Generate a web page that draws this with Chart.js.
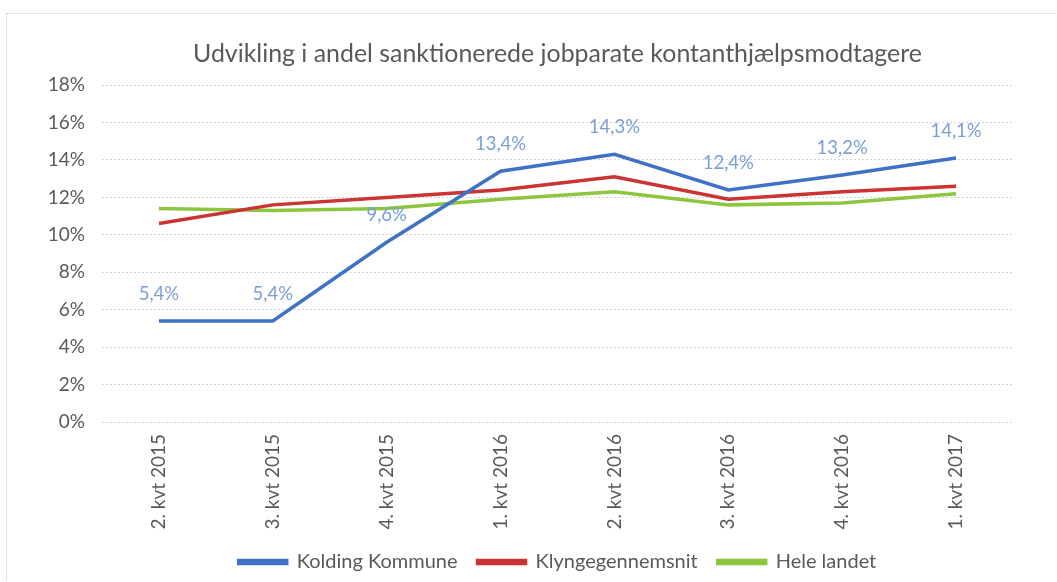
<!DOCTYPE html>
<html>
<head>
<meta charset="utf-8">
<script src="https://cdn.jsdelivr.net/npm/chart.js@4.4.0/dist/chart.umd.min.js"></script>
<style>
  html, body { margin: 0; padding: 0; background: #fff; }
  #wrap { position: relative; width: 1057px; height: 582px; overflow: hidden; }
  #frame { position: absolute; left: 6px; top: 13px; width: 1100px; height: 600px; border: 1px dotted #c8c8c8; }
  canvas { position: absolute; left: 0; top: 0; }
</style>
</head>
<body>
<div id="wrap">
  <div id="frame"></div>
  <canvas id="kontanthjaelpChart" width="1057" height="582"></canvas>
</div>
<script>
  // Kvartaler og andele (procent)
  const quarters = ['2. kvt 2015', '3. kvt 2015', '4. kvt 2015', '1. kvt 2016', '2. kvt 2016', '3. kvt 2016', '4. kvt 2016', '1. kvt 2017'];
  const kolding = [5.4, 5.4, 9.6, 13.4, 14.3, 12.4, 13.2, 14.1];
  const klynge = [10.6, 11.6, 12.0, 12.4, 13.1, 11.9, 12.3, 12.6];
  const heleLandet = [11.4, 11.3, 11.4, 11.9, 12.3, 11.6, 11.7, 12.2];

  const fontFamily = 'Lato, "Open Sans", sans-serif';
  const textColor = '#595959';

  // Datalabels for Kolding Kommune (over punkterne)
  const koldingLabels = {
    id: 'koldingLabels',
    afterDatasetsDraw(chart) {
      const meta = chart.getDatasetMeta(0);
      const ctx = chart.ctx;
      ctx.save();
      ctx.font = '18.5px ' + fontFamily;
      ctx.fillStyle = '#7a9fd6';
      ctx.textAlign = 'center';
      ctx.textBaseline = 'middle';
      meta.data.forEach((pt, i) => {
        const txt = kolding[i].toFixed(1).replace('.', ',') + '%';
        ctx.fillText(txt, pt.x, pt.y - 27);
      });
      ctx.restore();
    }
  };

  new Chart(document.getElementById('kontanthjaelpChart'), {
    type: 'line',
    data: {
      labels: quarters,
      datasets: [
        { label: 'Kolding Kommune', data: kolding, borderColor: '#3f72c4', backgroundColor: '#3f72c4', borderWidth: 3.5, pointRadius: 0, tension: 0 },
        { label: 'Klyngegennemsnit', data: klynge, borderColor: '#cc3333', backgroundColor: '#cc3333', borderWidth: 3.5, pointRadius: 0, tension: 0 },
        { label: 'Hele landet', data: heleLandet, borderColor: '#8cc63f', backgroundColor: '#8cc63f', borderWidth: 3.5, pointRadius: 0, tension: 0 }
      ]
    },
    options: {
      responsive: false,
      animation: false,
      layout: { padding: { left: 0, right: 44, top: 0, bottom: 0 } },
      plugins: {
        title: {
          display: true,
          fullSize: false,
          text: 'Udvikling i andel sanktionerede jobparate kontanthjælpsmodtagere',
          color: textColor,
          font: { family: fontFamily, size: 24.9, weight: 'normal' },
          padding: { top: 39, bottom: 16.2 }
        },
        legend: {
          position: 'bottom',
          fullSize: false,
          labels: {
            color: textColor,
            font: { family: fontFamily, size: 20 },
            boxWidth: 48,
            boxHeight: 3,
            padding: 20
          }
        },
        tooltip: { enabled: false }
      },
      scales: {
        x: {
          offset: true,
          grid: { display: false, drawTicks: false },
          border: { display: false },
          ticks: { color: textColor, font: { family: fontFamily, size: 19 }, minRotation: 90, maxRotation: 90, padding: 12 },
          afterFit(scale) { scale.height = 110; }
        },
        y: {
          min: 0,
          max: 18,
          ticks: { stepSize: 2, color: textColor, font: { family: fontFamily, size: 19 }, padding: 17, callback: v => v + '%' },
          grid: { color: '#d4d4d4', drawTicks: false, lineWidth: 1 },
          border: { display: false, dash: [2, 2] },
          afterFit(scale) { scale.width = 102; }
        }
      }
    },
    plugins: [koldingLabels]
  });
</script>
</body>
</html>
